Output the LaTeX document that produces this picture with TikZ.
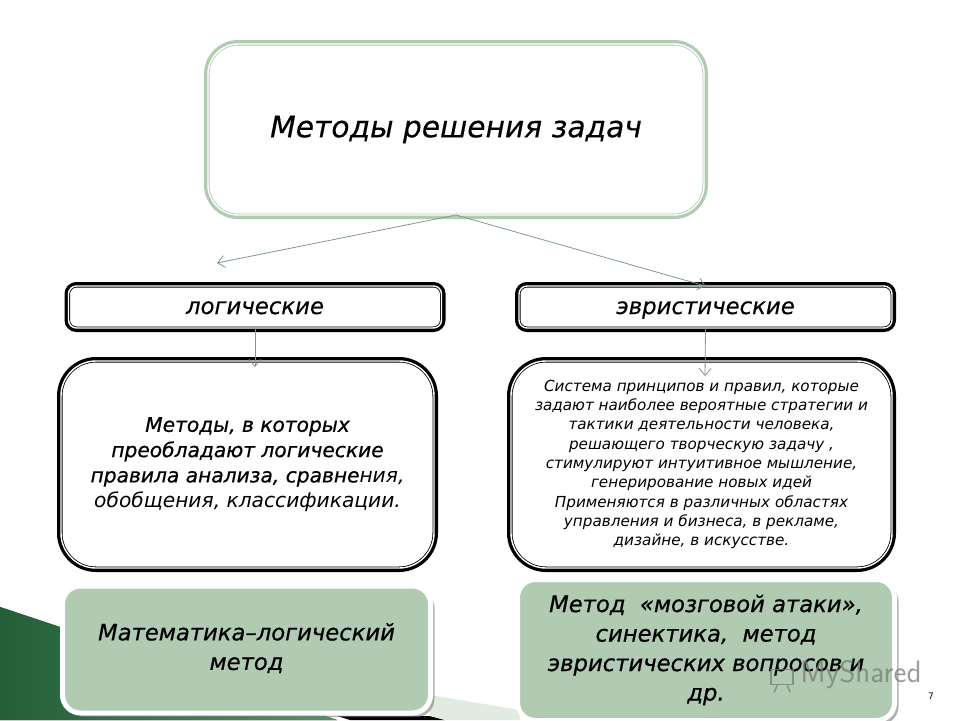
\documentclass[tikz,border=0pt]{standalone}
\usepackage{fontspec}
\setmainfont{DejaVu Sans}
\newfontfamily\shadefont[FakeBold=0.7]{DejaVu Sans}
\newfontfamily\lightfont[FakeBold=0.35]{DejaVu Sans}
\usetikzlibrary{positioning,arrows.meta,shadows,calc}
\definecolor{PaleGreen}{RGB}{178,204,178}
\definecolor{BoxGreen}{RGB}{176,203,177}
\definecolor{ArrowGreen}{RGB}{125,155,135}
\definecolor{DarkGreen}{RGB}{35,95,55}
\definecolor{MidGreen}{RGB}{85,145,100}
\definecolor{WedgeGreen}{RGB}{225,235,225}
\definecolor{MarkGray}{RGB}{120,125,120}

\begin{document}
\begin{tikzpicture}[
    x=1pt, y=-1pt,
    titlebox/.style={rectangle, draw=PaleGreen, fill=white, rounded corners=30pt,
                     preaction={draw=PaleGreen, line width=8pt},
                     line width=0.8pt, double=white, double distance=1.4pt,
                     outer sep=0pt, inner sep=0pt, align=center,
                     font=\fontsize{29.7}{35}\selectfont\lightfont\itshape},
    kindbox/.style={rectangle, draw=black, fill=white, rounded corners=8pt,
                    preaction={draw=black, line width=8pt},
                    line width=0.8pt, double=white, double distance=1.4pt,
                    minimum width=373pt, minimum height=42pt,
                    text height=17pt, text depth=3pt,
                    outer sep=0pt, inner sep=0pt, align=center,
                    font=\fontsize{22.8}{25}\selectfont\lightfont\itshape},
    textbox/.style={rectangle, draw=black, fill=white, rounded corners=35pt,
                    preaction={draw=black, line width=8pt},
                    line width=0.8pt, double=white, double distance=1.4pt,
                    minimum height=207pt,
                    outer sep=0pt, inner sep=0pt, align=center},
    greenbox/.style={rectangle, draw=white, fill=BoxGreen, rounded corners=18pt,
                     line width=5pt, drop shadow={shadow xshift=4pt, shadow yshift=-4pt, opacity=.6},
                     outer sep=0pt, inner sep=0pt, align=center,
                     font=\fontsize{22.7}{29.5}\selectfont\shadefont\itshape},
    arrow/.style={-{Straight Barb[length=7pt, width=12pt]}, draw=ArrowGreen, line width=0.8pt}
]
    \useasboundingbox (0,0) rectangle (960,720);

    \fill[left color=DarkGreen, right color=MidGreen] (0,607) -- (60,627) -- (337,720) -- (0,720) -- cycle;
    \fill[black] (337,716) -- (430,716) -- (445,720) -- (350,720) -- cycle;
    \fill[WedgeGreen] (430,695) -- (520,710) -- (520,720) -- (445,720) -- (430,716) -- cycle;

    \node[titlebox, minimum width=496pt, minimum height=171pt] (title) at (456,129.5) {Методы решения задач};

    \node[kindbox, below=71pt of title, xshift=-201pt] (log) {логические};
    \node[kindbox, right=77.5pt of log] (heur) {эвристические};

    \node[textbox, minimum width=373pt, below=33pt of log, xshift=-7.5pt,
          font=\fontsize{20.2}{25.3}\selectfont\itshape] (logtext)
        {{\shadefont Методы, в которых}\\{\shadefont преобладают логические}\\{\shadefont правила анализа, сравне}ния,\\обобщения, классификации.};
    \node[textbox, minimum width=381pt, below=33pt of heur, xshift=-4pt,
          font=\fontsize{15.2}{19.3}\selectfont\itshape] (heurtext)
        {Система принципов и правил, которые\\задают наиболее вероятные стратегии и\\тактики деятельности человека,\\решающего творческую задачу ,\\стимулируют интуитивное мышление,\\генерирование новых идей\\Применяются в различных областях\\управления и бизнеса, в рекламе,\\дизайне, в искусстве.};

    \node[greenbox, minimum width=368pt, minimum height=127pt, below=18pt of logtext, xshift=-1pt] (mathbox)
        {Математика–логический\\метод\rule[-6pt]{0pt}{0pt}};
    \node[greenbox, minimum width=377pt, minimum height=141pt, below=11.5pt of heurtext, xshift=4.5pt] (brainbox)
        {Метод~ «мозговой атаки»,\\синектика,~ метод\\эвристических вопросов и\\др.\rule[-3pt]{0pt}{0pt}};

    \coordinate (leftend) at (217,263);
    \coordinate (logend) at (255,367);
    \coordinate (heurend) at (705,376);

    \draw[arrow] (title.south) -- (leftend);
    \draw[arrow] (title.south) -- (heur.north);
    \draw[arrow] (log.south) -- (logend);
    \draw[arrow] (heur.south) -- (heurend);

    \node[text=MarkGray, opacity=.75, font=\fontsize{31}{31}\selectfont\sffamily] (mark) at (861,675) {MyShared};
    \node[draw=MarkGray, opacity=.75, line width=1.5pt, minimum width=22pt, minimum height=15pt, inner sep=0pt, left=3pt of mark, yshift=-2pt] (icon) {};
    \draw[MarkGray, opacity=.75, line width=1.5pt] (icon.south) ++(-5,0) -- ++(-3,7) (icon.south) ++(5,0) -- ++(3,7);
    \node[font=\fontsize{9}{11}\selectfont] (page) at (931,696) {7};
\end{tikzpicture}
\end{document}
